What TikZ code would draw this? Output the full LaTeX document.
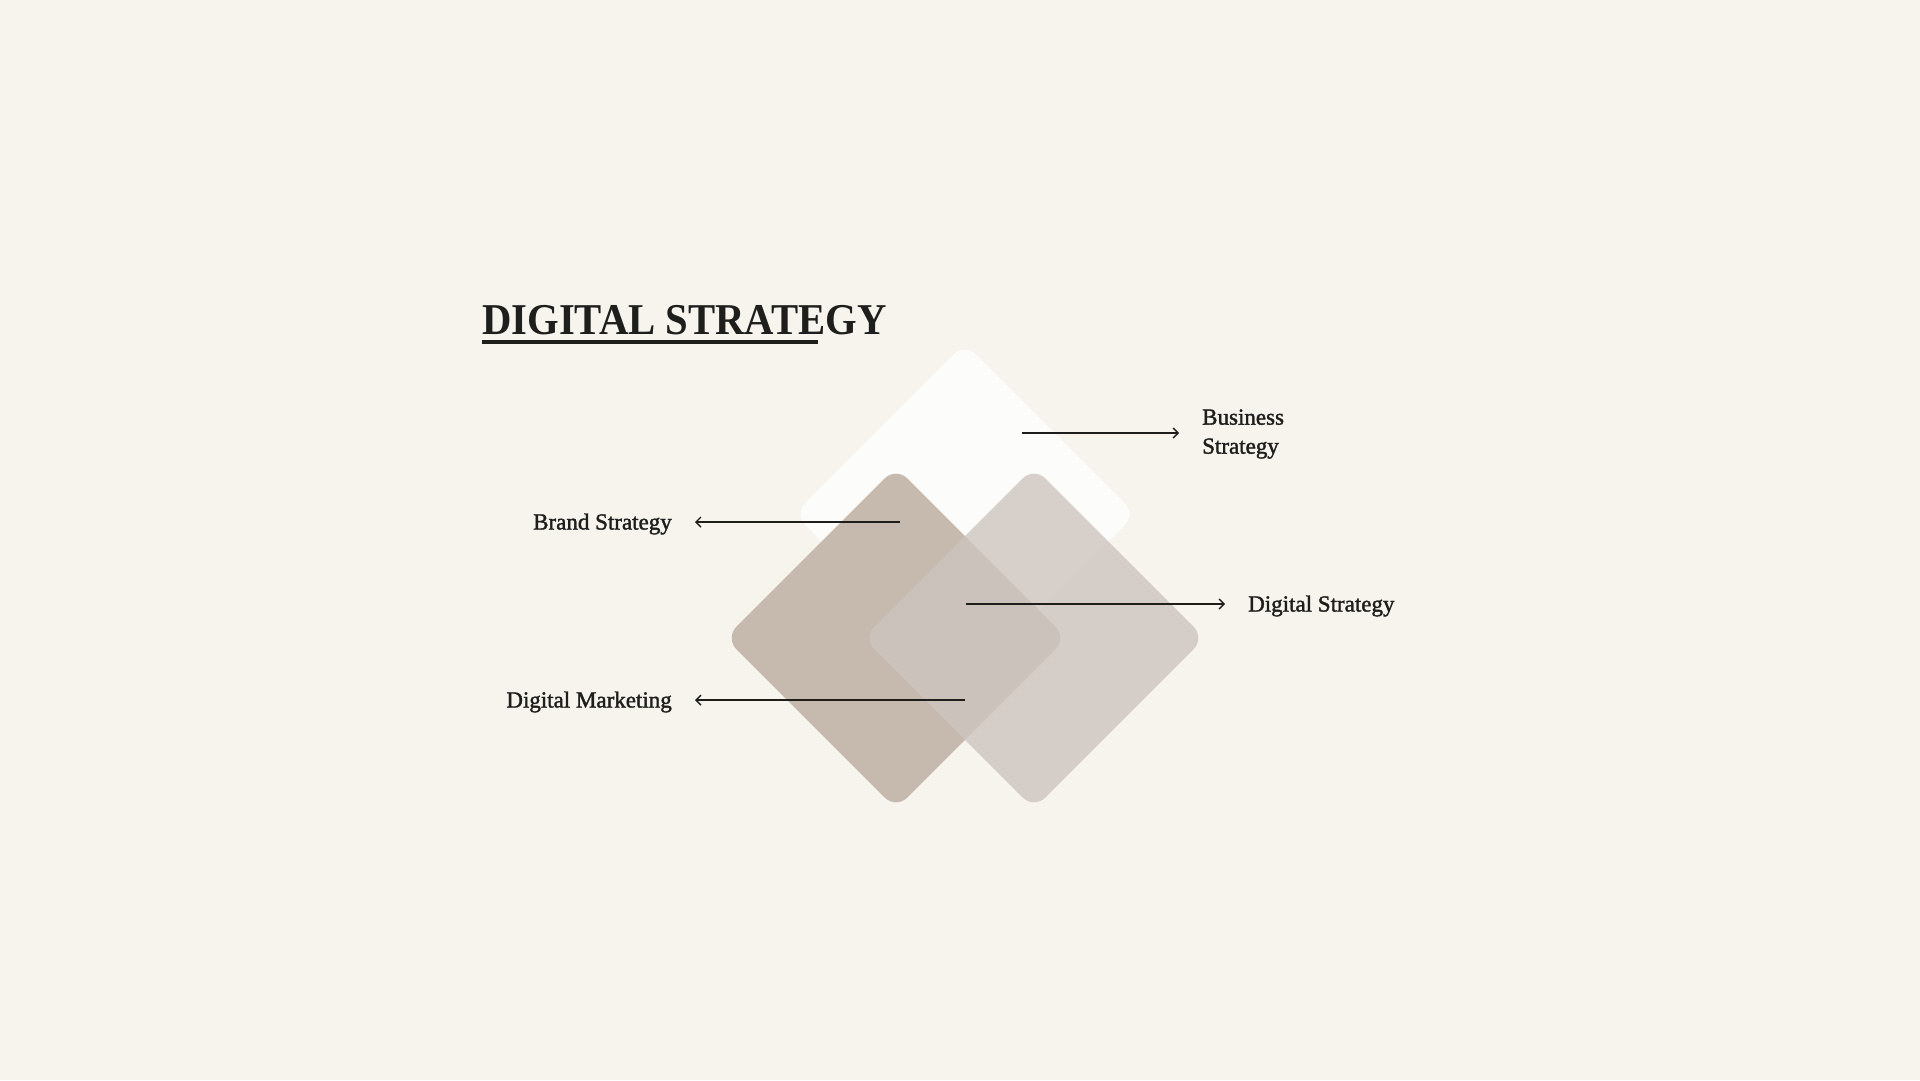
\documentclass[tikz,border=0pt]{standalone}
\usepackage{fontspec}
\setmainfont{Liberation Serif}
\newfontfamily\tagfont[FakeBold=1.6]{Liberation Serif}
\usetikzlibrary{arrows.meta,shapes.geometric}
\definecolor{canvas}{HTML}{F7F4EE}
\definecolor{ink}{HTML}{1E1E1C}
\definecolor{chalk}{HTML}{FCFCFA}
\definecolor{taupe}{HTML}{C6BAAF}
\definecolor{stone}{HTML}{CDC4BE}
\tikzset{
    %Define standard arrow tip
    >={Straight Barb[length=5pt,width=10pt]},
    %Define style for tiles
    tile/.style={
           diamond,
           aspect=1,
           rounded corners=16pt,
           inner sep=0pt,
           minimum width=342pt,
           minimum height=342pt},
    chalktile/.style={
           tile,
           fill=chalk},
    taupetile/.style={
           tile,
           fill=taupe},
    stonetile/.style={
           tile,
           fill=stone,
           fill opacity=0.8},
    %Define style for texts
    heading/.style={
           inner sep=0pt,
           text=ink,
           font=\fontsize{44}{44}\selectfont\bfseries},
    tag/.style={
           inner sep=0pt,
           text=ink,
           align=left,
           font=\tagfont\fontsize{23}{29}\selectfont},
    % Define arrow style
    pil/.style={
           ->,
           draw=ink,
           line width=1.4pt,
           shorten >=23pt},
    underline/.style={
           draw=ink,
           line width=4.5pt}
}

\begin{document}
\begin{tikzpicture}[x=1pt,y=-1pt]
\fill[canvas] (0,0) rectangle (1920,1080);
\useasboundingbox (0,0) rectangle (1920,1080);
 %title
\node[heading, anchor=base west](title) at (482,334){\scalebox{0.925}[1]{DIGITAL STRATEGY}};
\draw[underline] ([yshift=-8pt]title.base west) -- ++(336,0);
 %tiles
\node[chalktile](business) at (965,514){};
\node[taupetile](brand) at (896,638){};
\node[stonetile](digital) at (1034,638){};
 %labels
\node[tag, anchor=west](biz) at (1202,434){Business\\Strategy};
\node[tag, anchor=east](brd) at (672,524){Brand Strategy};
\node[tag, anchor=west](dst) at (1248,606){Digital Strategy};
\node[tag, anchor=east](dmk) at (672,702){Digital Marketing};
 %pointers
\coordinate (bizfrom) at (1022,433);
\coordinate (brdfrom) at (900,522);
\coordinate (dstfrom) at (966,604);
\coordinate (dmkfrom) at (965,700);
\draw[pil] (bizfrom) -- (bizfrom -| biz.west);
\draw[pil] (brdfrom) -- (brdfrom -| brd.east);
\draw[pil] (dstfrom) -- (dstfrom -| dst.west);
\draw[pil] (dmkfrom) -- (dmkfrom -| dmk.east);
\end{tikzpicture}
\end{document}
